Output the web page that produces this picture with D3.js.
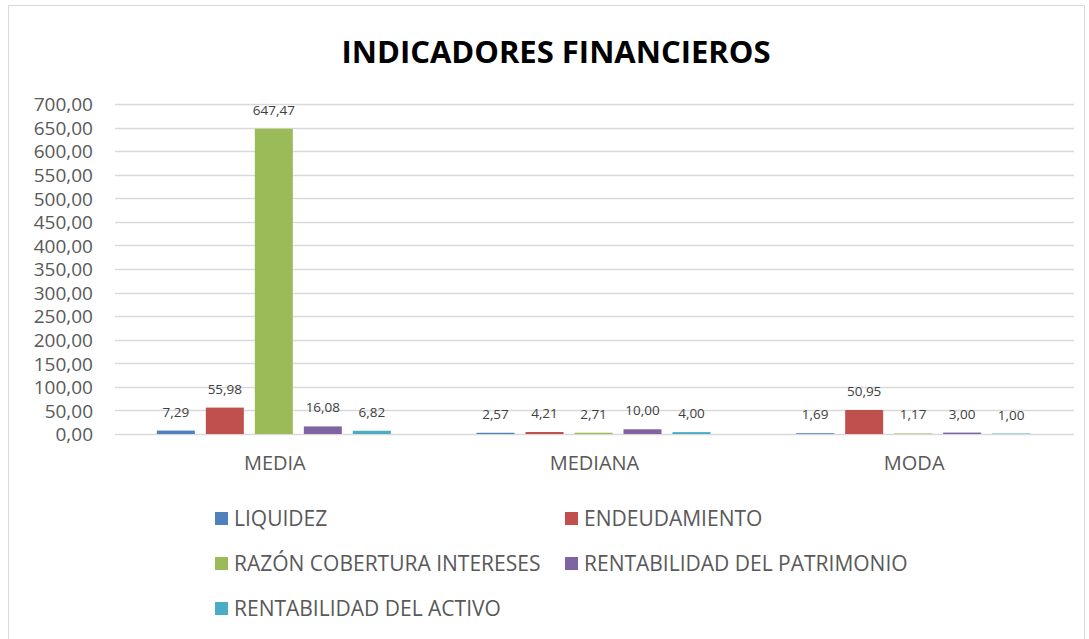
<!DOCTYPE html>
<html lang="es">
<head>
<meta charset="UTF-8">
<title>Indicadores financieros</title>
<script src="https://d3js.org/d3.v7.min.js"></script>
<style>
    body { margin: 0; background: #fff; }
    svg text { font-family: "Open Sans", sans-serif; }
    .legend text { font-family: "Liberation Sans Narrow", "Open Sans", sans-serif; }
</style>
</head>
<body>
<svg id="chart"></svg>
<script>
    const categories = ["MEDIA", "MEDIANA", "MODA"];
    const seriesNames = ["LIQUIDEZ", "ENDEUDAMIENTO", "RAZÓN COBERTURA INTERESES",
        "RENTABILIDAD DEL PATRIMONIO", "RENTABILIDAD DEL ACTIVO"];
    const seriesColors = ["#4F81BD", "#C0504D", "#9BBB59", "#8064A2", "#4BACC6"];
    // values[serie][categoria]
    const liquidez = [7.29, 2.57, 1.69];
    const endeudamiento = [55.98, 4.21, 50.95];
    const cobertura = [647.47, 2.71, 1.17];
    const rentPatrimonio = [16.08, 10.00, 3.00];
    const rentActivo = [6.82, 4.00, 1.00];
    const values = [liquidez, endeudamiento, cobertura, rentPatrimonio, rentActivo];
    const yTicks = d3.range(0, 701, 50);

    const width = 1089, height = 639;
    const margin = {top: 104, right: 15, bottom: 205, left: 115};
    const groupWidth = 234;

    const svg = d3.select("#chart")
        .attr("width", width)
        .attr("height", height);

    // chart border
    svg.append("rect")
        .attr("x", 8.5).attr("y", 5.5)
        .attr("width", 1076).attr("height", 640)
        .attr("fill", "none")
        .attr("stroke", "#d9d9d9");

    svg.append("text")
        .attr("x", 556).attr("y", 63)
        .attr("text-anchor", "middle")
        .style("font-size", "31px")
        .style("font-weight", "bold")
        .attr("fill", "#000")
        .text("INDICADORES FINANCIEROS");

    const x0 = d3.scaleBand()
        .domain(categories)
        .range([margin.left, width - margin.right]);

    const x1 = d3.scaleBand()
        .domain(d3.range(seriesNames.length))
        .range([0, groupWidth])
        .paddingInner(0.2245);

    const y = d3.scaleLinear()
        .domain([0, 700])
        .range([height - margin.bottom, margin.top]);

    // grid
    svg.append("g")
        .selectAll("line")
        .data(yTicks)
        .join("line")
        .attr("x1", margin.left)
        .attr("x2", width - margin.right)
        .attr("y1", d => Math.round(y(d)) + 0.5)
        .attr("y2", d => Math.round(y(d)) + 0.5)
        .attr("stroke", "#d9d9d9")
        .attr("stroke-width", 1.5);

    const fmt = d => d.toFixed(2).replace(".", ",");

    const yAxis = svg.append("g")
        .attr("transform", `translate(${margin.left - 22},0)`)
        .call(d3.axisLeft(y).tickValues(yTicks).tickFormat(fmt).tickSize(0).tickPadding(0));
    yAxis.select(".domain").remove();
    yAxis.selectAll("text")
        .attr("dy", "0.36em")
        .style("font-size", "19px")
        .style("font-family", "'Open Sans', sans-serif")
        .attr("fill", "#595959");

    const groups = svg.append("g")
        .selectAll("g")
        .data(categories)
        .join("g")
        .attr("transform", c => `translate(${x0(c) + (x0.bandwidth() - groupWidth) / 2 - 1},0)`);

    groups.selectAll("rect")
        .data((c, ci) => values.map((s, si) => ({si, v: s[ci]})))
        .join("rect")
        .attr("x", d => x1(d.si))
        .attr("width", x1.bandwidth())
        .attr("y", d => y(d.v))
        .attr("height", d => y(0) - y(d.v))
        .attr("fill", d => seriesColors[d.si]);

    groups.selectAll("text")
        .data((c, ci) => values.map((s, si) => ({si, v: s[ci]})))
        .join("text")
        .attr("x", d => x1(d.si) + x1.bandwidth() / 2)
        .attr("y", d => y(d.v) - 14)
        .attr("text-anchor", "middle")
        .style("font-size", "13.5px")
        .attr("fill", "#404040")
        .text(d => fmt(d.v));

    // category labels
    const xAxis = svg.append("g")
        .attr("transform", `translate(0,${y(0)})`)
        .call(d3.axisBottom(x0).tickSize(0).tickPadding(22));
    xAxis.select(".domain").remove();
    xAxis.selectAll("text")
        .style("font-size", "20px")
        .style("font-family", "'Open Sans', sans-serif")
        .attr("fill", "#595959");

    // legend
    const legend = svg.append("g").attr("class", "legend")
        .selectAll("g")
        .data(seriesNames)
        .join("g")
        .attr("transform", (d, i) => `translate(${i % 2 === 0 ? 215 : 565},${518 + Math.floor(i / 2) * 45})`);

    legend.append("rect")
        .attr("x", 0).attr("y", -6)
        .attr("width", 13).attr("height", 13)
        .attr("fill", (d, i) => seriesColors[i]);

    legend.append("text")
        .attr("x", 19).attr("y", 0)
        .attr("dy", "0.36em")
        .style("font-size", "21px")
        .attr("fill", "#595959")
        .text(d => d);
</script>
</body>
</html>
